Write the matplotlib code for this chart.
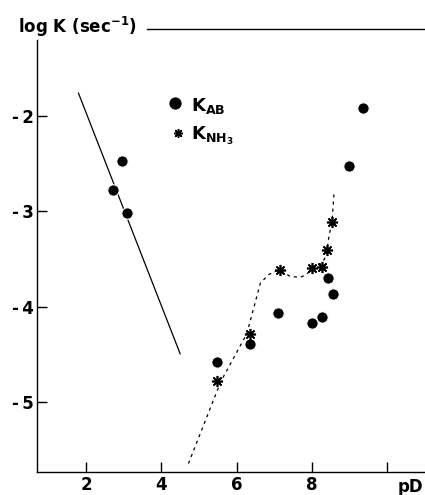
import numpy as np
import matplotlib
matplotlib.use("Agg")
import matplotlib.pyplot as plt

plt.rcParams["font.family"] = ["DejaVu Sans"]
plt.rcParams["mathtext.fontset"] = "dejavusans"

# K_AB (filled circles)
kab_pd = [2.73, 2.95, 3.09, 5.49, 6.36, 7.11, 8.00, 8.26, 8.43, 8.56, 8.97, 9.35]
kab_logk = [-2.77, -2.47, -3.02, -4.58, -4.39, -4.06, -4.17, -4.11, -3.70, -3.86, -2.52, -1.92]

# K_NH3 (asterisks)
knh3_pd = [5.47, 6.36, 7.15, 8.00, 8.27, 8.40, 8.53]
knh3_logk = [-4.78, -4.28, -3.61, -3.59, -3.58, -3.40, -3.11]

# solid line (low pD branch)
solid_pd = [1.80, 4.50]
solid_logk = [-1.76, -4.49]

# dashed curve through K_NH3
dash_pd = [4.72, 5.58, 6.27, 6.63, 6.85, 7.13, 7.42, 7.69, 7.85, 8.00, 8.20, 8.33, 8.40, 8.45, 8.53, 8.56, 8.59]
dash_logk = [-5.64, -4.78, -4.28, -3.75, -3.66, -3.61, -3.68, -3.69, -3.66, -3.60, -3.56, -3.50, -3.40, -3.26, -3.11, -2.95, -2.78]

xticks = [2, 4, 6, 8, 10]
xticklabels = ["2", "4", "6", "8", ""]
yticks = [-2, -3, -4, -5]

fig = plt.figure(figsize=(4.25, 4.95), dpi=100)
ax = fig.add_axes([37 / 425, 1 - 471.7 / 495, 1 - 37 / 425, (471.7 - 29) / 495])
ax.set_xlim(0.7, 11.0)
ax.set_ylim(-5.725, -1.089)

ax.plot(solid_pd, solid_logk, color="black", lw=0.9, zorder=1)
ax.plot(dash_pd, dash_logk, color="black", lw=0.9, ls=(0, (2.5, 3.2)), zorder=1)
ax.plot(kab_pd, kab_logk, "o", color="black", ms=8.2, mec="white", mew=0.8, zorder=3)
ax.plot(knh3_pd, knh3_logk, ls="none", marker=(8, 2, 0), color="black", ms=8, mew=1.2, zorder=3)
ax.plot(knh3_pd, knh3_logk, ls="none", marker="o", color="black", ms=3.2, zorder=3)

# legend drawn by hand
ax.plot([4.37], [-1.86], "o", color="black", ms=7.8, clip_on=False)
ax.plot([4.45], [-2.175], ls="none", marker=(8, 2, 0), color="black", ms=6.5, mew=1.1, clip_on=False)
ax.plot([4.45], [-2.175], ls="none", marker="o", color="black", ms=2.5, clip_on=False)
ax.text(4.78, -1.95, r"K$_{\mathbf{AB}}$", fontsize=13, fontweight="bold", ha="left", va="baseline")
ax.text(4.78, -2.25, r"K$_{\mathbf{NH_3}}$", fontsize=13, fontweight="bold", ha="left", va="baseline")

ax.spines["right"].set_visible(False)
ax.spines["left"].set_bounds(-5.725, -1.204)
ax.spines["top"].set_bounds(3.62, 11.0)
for s in ("left", "top", "bottom"):
    ax.spines[s].set_linewidth(1.0)

ax.set_xticks(xticks)
ax.set_xticklabels(xticklabels)
ax.set_yticks(yticks)
ax.set_yticklabels(["-\u2009" + str(abs(t)) for t in yticks])
ax.tick_params(axis="both", direction="in", length=7, width=1.0, labelsize=12)
ax.tick_params(axis="x", pad=3)
ax.tick_params(axis="y", pad=2)
for lab in ax.get_xticklabels() + ax.get_yticklabels():
    lab.set_fontweight("bold")

fig.text(18 / 425, 1 - 33 / 495, r"log K (sec$^{\mathbf{-1}}$)", fontsize=12,
         fontweight="bold", ha="left", va="baseline")
fig.text(398 / 425, 1 - 478 / 495, "pD", fontsize=12, fontweight="bold", ha="left", va="top")

fig.savefig("out.png", dpi=100)
